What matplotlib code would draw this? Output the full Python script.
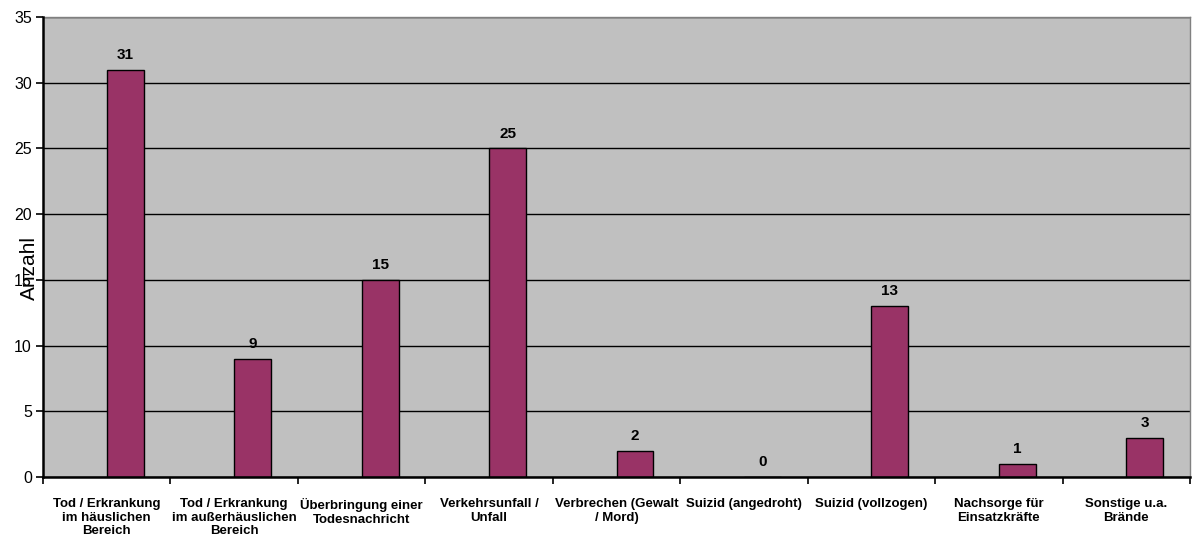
import matplotlib
matplotlib.use("Agg")
import matplotlib.pyplot as plt
import numpy as np

categories = [
    "Tod / Erkrankung\nim häuslichen\nBereich",
    "Tod / Erkrankung\nim außerhäuslichen\nBereich",
    "Überbringung einer\nTodesnachricht",
    "Verkehrsunfall /\nUnfall",
    "Verbrechen (Gewalt\n/ Mord)",
    "Suizid (angedroht)",
    "Suizid (vollzogen)",
    "Nachsorge für\nEinsatzkräfte",
    "Sonstige u.a.\nBrände",
]
values = [31, 9, 15, 25, 2, 0, 13, 1, 3]
y_ticks = [0, 5, 10, 15, 20, 25, 30, 35]

plt.rcParams["font.family"] = ["Liberation Sans", "DejaVu Sans"]

fig = plt.figure(figsize=(11.92, 5.51), dpi=100)
ax = fig.add_axes([0.0361, 0.1343, 0.9622, 0.8347])
ax.set_facecolor("#C0C0C0")

x = np.arange(len(categories))
bar_w = 0.29
ax.bar(x, values, width=bar_w, align="edge", color="#993366",
       edgecolor="black", linewidth=1.0, zorder=3)

for xi, v in zip(x, values):
    ax.text(xi + bar_w / 2, v + 0.6, str(v), ha="center", va="bottom",
            fontsize=11, fontweight="bold", zorder=4)

ax.set_xlim(-0.5, len(categories) - 0.5)
ax.set_ylim(0, 35)
ax.set_yticks(y_ticks)
ax.tick_params(axis="y", labelsize=11.5, length=5, width=1.2, direction="out", pad=3)

ax.set_xticks(np.arange(len(categories) + 1) - 0.5, minor=False)
ax.set_xticklabels([])
ax.set_xticks(x, minor=True)
ax.set_xticklabels(categories, minor=True, fontsize=9.5, fontweight="bold",
                   linespacing=1.2)
ax.tick_params(axis="x", which="major", length=5, width=1.2, direction="out")
ax.tick_params(axis="x", which="minor", length=0, pad=15)

ax.yaxis.grid(True, color="black", linewidth=1.0, zorder=1)
ax.set_axisbelow(True)

for side in ("left", "bottom"):
    ax.spines[side].set_linewidth(1.8)
    ax.spines[side].set_color("black")
    ax.spines[side].set_zorder(5)
for side in ("top", "right"):
    ax.spines[side].set_linewidth(1.0)
    ax.spines[side].set_color("#808080")

fig.text(29.5 / 1192, 1 - 268 / 551, "Anzahl", rotation=90, ha="center",
         va="center", fontsize=15)

fig.savefig("out.png", dpi=100)
